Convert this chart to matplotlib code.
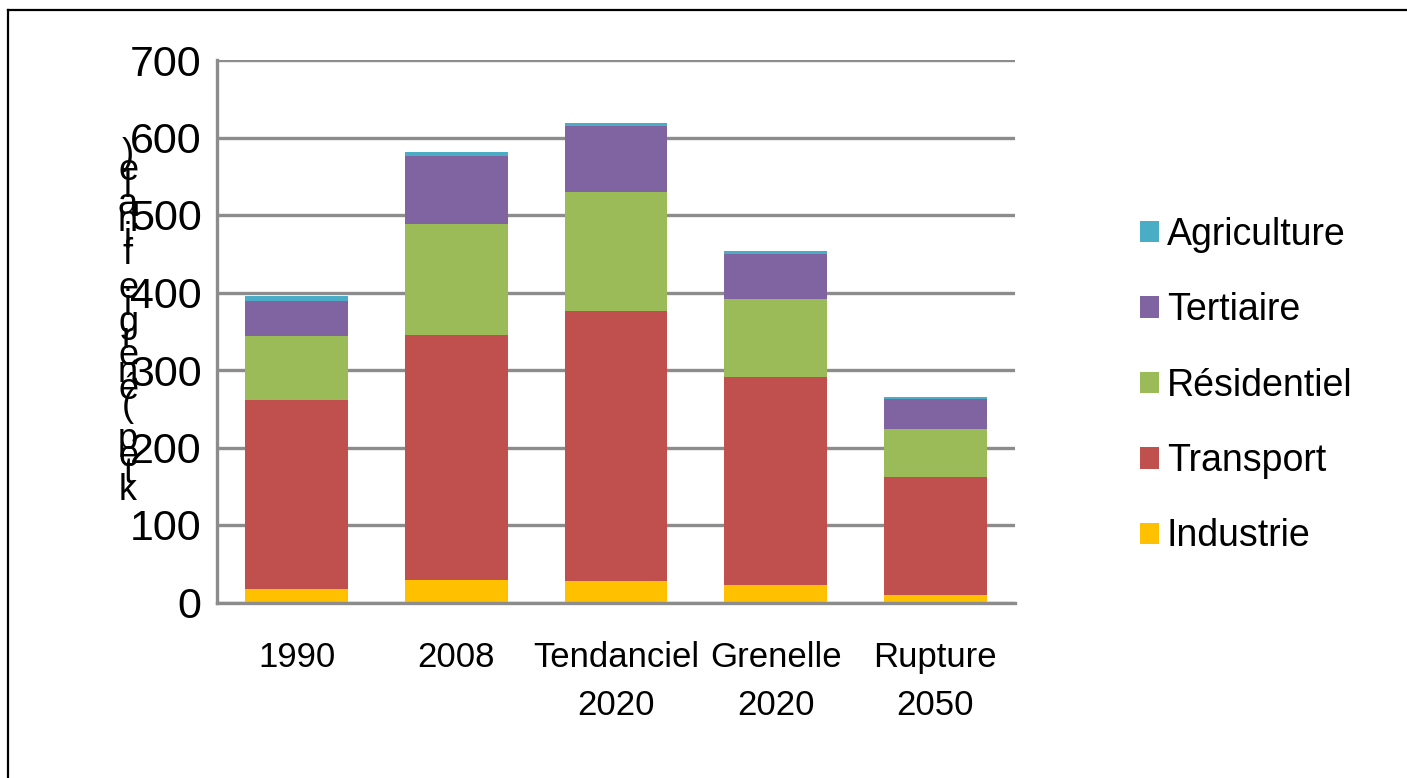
import matplotlib
matplotlib.use("Agg")
import matplotlib.pyplot as plt
from matplotlib.lines import Line2D
from matplotlib.patches import Patch
import numpy as np

categories = ["1990", "2008", "Tendanciel\n2020", "Grenelle\n2020", "Rupture\n2050"]
industrie = [17, 29, 28, 23, 10]
transport = [244, 316, 348, 268, 152]
residentiel = [83, 143, 154, 101, 62]
tertiaire = [45, 88, 85, 58, 38]
agriculture = [6, 5, 4, 4, 3]
series_names = ["Industrie", "Transport", "Résidentiel", "Tertiaire", "Agriculture"]
series_colors = ["#FFC000", "#C0504D", "#9BBB59", "#8064A2", "#4BACC6"]
yticks = [0, 100, 200, 300, 400, 500, 600, 700]
ylabel = "ktep (énergie finale)"

FONT = ["Liberation Sans Narrow", "Liberation Sans", "DejaVu Sans"]
plt.rcParams["font.family"] = FONT

W, H = 1407, 778
fig = plt.figure(figsize=(W / 100, H / 100), dpi=100)
ax = fig.add_axes([217 / W, 1 - 602.5 / H, (1015 - 217) / W, (602.5 - 60) / H])

x = np.arange(len(categories))
bottom = np.zeros(len(categories))
handles = []
for name, vals, col in zip(series_names,
                           [industrie, transport, residentiel, tertiaire, agriculture],
                           series_colors):
    ax.bar(x, vals, width=0.645, bottom=bottom, color=col, edgecolor="none",
           zorder=3, label=name)
    bottom += np.array(vals)
    handles.append(Patch(facecolor=col, edgecolor="none", label=name))

grey = "#8c8c8c"
ax.set_xlim(-0.5, len(categories) - 0.5)
ax.set_ylim(0, 700)
ax.set_yticks(yticks)
ax.set_xticks(x)
ax.set_xticklabels(categories, fontsize=25, linespacing=1.55)
ax.set_yticklabels([str(v) for v in yticks], fontsize=31)
ax.tick_params(axis="both", length=0, colors="black")
ax.tick_params(axis="y", pad=11)
ax.tick_params(axis="x", pad=28)
ax.yaxis.grid(True, color=grey, linewidth=2.4, zorder=0)
ax.set_axisbelow(True)
for s in ["top", "right"]:
    ax.spines[s].set_visible(False)
for s in ["left", "bottom"]:
    ax.spines[s].set_color(grey)
    ax.spines[s].set_linewidth(2.4)
    ax.spines[s].set_zorder(4)

# stacked upright characters for y label (reversed vertical order)
n = len(ylabel)
ytop, ybot = 154, 490
for i, ch in enumerate(ylabel):
    ypix = ybot - i * (ybot - ytop) / (n - 1)
    fig.text(128 / W, 1 - ypix / H, ch, fontsize=26, ha="center", va="center",
             family=FONT)

leg = fig.legend(handles=handles[::-1], loc="upper left",
                 bbox_to_anchor=(1140 / W, 1 - 217 / H), frameon=False,
                 fontsize=27, handlelength=0.5, handleheight=0.5,
                 handletextpad=0.22, labelspacing=1.05, borderpad=0,
                 borderaxespad=0)

# outer frame (top and left visible)
fig.add_artist(Line2D([8 / W, 8 / W], [0, 1 - 10 / H], transform=fig.transFigure,
                      color="black", linewidth=1.6))
fig.add_artist(Line2D([8 / W, 1], [1 - 10 / H, 1 - 10 / H], transform=fig.transFigure,
                      color="black", linewidth=1.6))

fig.savefig("out.png", dpi=100)
